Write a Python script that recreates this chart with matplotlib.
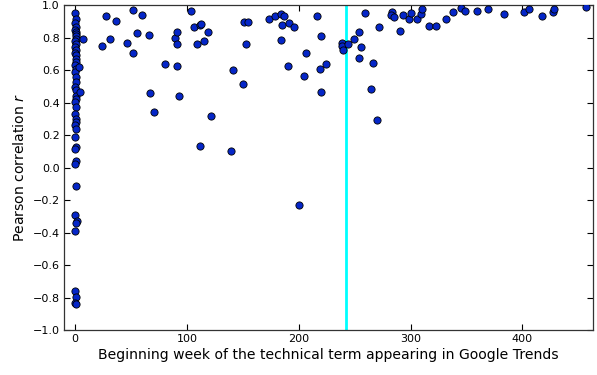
import matplotlib
matplotlib.use("Agg")
import matplotlib.pyplot as plt
import numpy as np

# Points in the x=0 column (beginning week ~0)
col_x = [0.0, 0.5, 0.3, 0.8, 0.2, 0.6, 1.0, 0.4, 0.7, 0.1, 0.9, 0.3, 0.5, 0.2, 0.8, 0.4,
         0.6, 0.3, 0.7, 0.1, 0.5, 0.9, 0.2, 0.6, 0.4, 0.8, 0.3, 0.5, 0.1, 0.7, 0.4, 0.2,
         0.6, 0.3, 0.5, 0.2, 0.4, 0.3,
         0.4, 0.3, 2.0, 0.5, 0.2, 0.3, 0.4, 0.2, 0.5]
col_y = [0.955, 0.918, 0.891, 0.866, 0.850, 0.835, 0.825, 0.809, 0.794, 0.780, 0.763,
         0.743, 0.722, 0.706, 0.691, 0.671, 0.650, 0.630, 0.609, 0.588, 0.558, 0.527,
         0.496, 0.475, 0.444, 0.424, 0.403, 0.372, 0.331, 0.300, 0.280, 0.265, 0.239,
         0.187, 0.125, 0.115, 0.043, 0.023,
         -0.111, -0.292, -0.327, -0.344, -0.389, -0.759, -0.796, -0.831, -0.841]

# Remaining points
other_x = [7.4, 3.9, 4.5, 27.4, 36.7, 51.6, 59.9, 23.8, 31.3, 46.8, 51.6, 55.5, 66.5,
           80.5, 67.1, 70.7, 89.4, 91.0, 91.0, 91.0, 93.3, 103.8, 106.4, 109.4, 111.8,
           111.8, 113.0, 119.0, 115.0, 121.6, 139.2, 141.6, 150.3, 150.9, 155.0, 153.2,
           173.2, 178.6, 184.3, 186.7, 185.1, 184.5, 191.7, 195.6, 190.2, 206.6, 204.6,
           216.2, 220.3, 219.4, 224.2, 219.8, 238.5, 239.0, 240.0, 244.5, 249.6, 253.7,
           255.8, 253.7, 259.6, 266.3, 264.8, 270.1, 271.9, 283.5, 282.6, 285.6, 291.0,
           293.1, 298.7, 300.8, 305.6, 309.7, 310.0, 316.6, 322.6, 331.5, 338.1, 345.3,
           348.8, 359.6, 369.4, 383.7, 401.3, 406.1, 417.7, 427.3, 428.7, 457.0, 200.3]
other_y = [0.790, 0.620, 0.465, 0.936, 0.900, 0.973, 0.940, 0.747, 0.790, 0.767, 0.708,
           0.827, 0.819, 0.640, 0.460, 0.344, 0.800, 0.835, 0.763, 0.628, 0.443, 0.965,
           0.868, 0.759, 0.880, 0.136, 0.883, 0.835, 0.782, 0.315, 0.105, 0.600, 0.518,
           0.899, 0.895, 0.759, 0.914, 0.936, 0.944, 0.936, 0.881, 0.786, 0.891, 0.868,
           0.628, 0.704, 0.564, 0.936, 0.809, 0.605, 0.638, 0.465, 0.767, 0.749, 0.726,
           0.759, 0.794, 0.835, 0.740, 0.677, 0.953, 0.642, 0.486, 0.294, 0.868, 0.959,
           0.942, 0.928, 0.842, 0.940, 0.914, 0.955, 0.916, 0.944, 0.977, 0.872, 0.872,
           0.918, 0.959, 0.980, 0.967, 0.963, 0.977, 0.949, 0.959, 0.977, 0.936, 0.959,
           0.977, 0.990, -0.228]

threshold_week = 242
x_ticks = [0, 100, 200, 300, 400]
y_ticks = [-1.0, -0.8, -0.6, -0.4, -0.2, 0.0, 0.2, 0.4, 0.6, 0.8, 1.0]

plt.rcParams['font.family'] = ['DejaVu Sans']
plt.rcParams['axes.unicode_minus'] = True

fig = plt.figure(figsize=(5.97, 3.75), dpi=100, facecolor='white')
ax = fig.add_axes([0.107, 0.12, 0.886, 0.866])

xs = np.array(col_x + other_x)
ys = np.array(col_y + other_y)
ax.scatter(xs, ys, s=27, c='#0526c8', edgecolors='black', linewidths=0.6, zorder=3)
ax.axvline(threshold_week, color='#00ffff', lw=2, zorder=2)

ax.set_xlim(-10, 463)
ax.set_ylim(-1.0, 1.0)
ax.set_xticks(x_ticks)
ax.set_yticks(y_ticks)
ax.set_yticklabels([f"{v:.1f}".replace('-', '\u2212') for v in y_ticks])
ax.tick_params(direction='in', top=True, right=True, labelsize=8, length=4, width=0.8,
               pad=3)
for sp in ax.spines.values():
    sp.set_linewidth(0.9)
    sp.set_color('#333333')

ax.set_xlabel("Beginning week of the technical term appearing in Google Trends",
              fontsize=10.1, labelpad=3)
ax.set_ylabel("Pearson correlation $r$", fontsize=10.1, labelpad=4)

fig.savefig("out.png", dpi=100, facecolor='white')
